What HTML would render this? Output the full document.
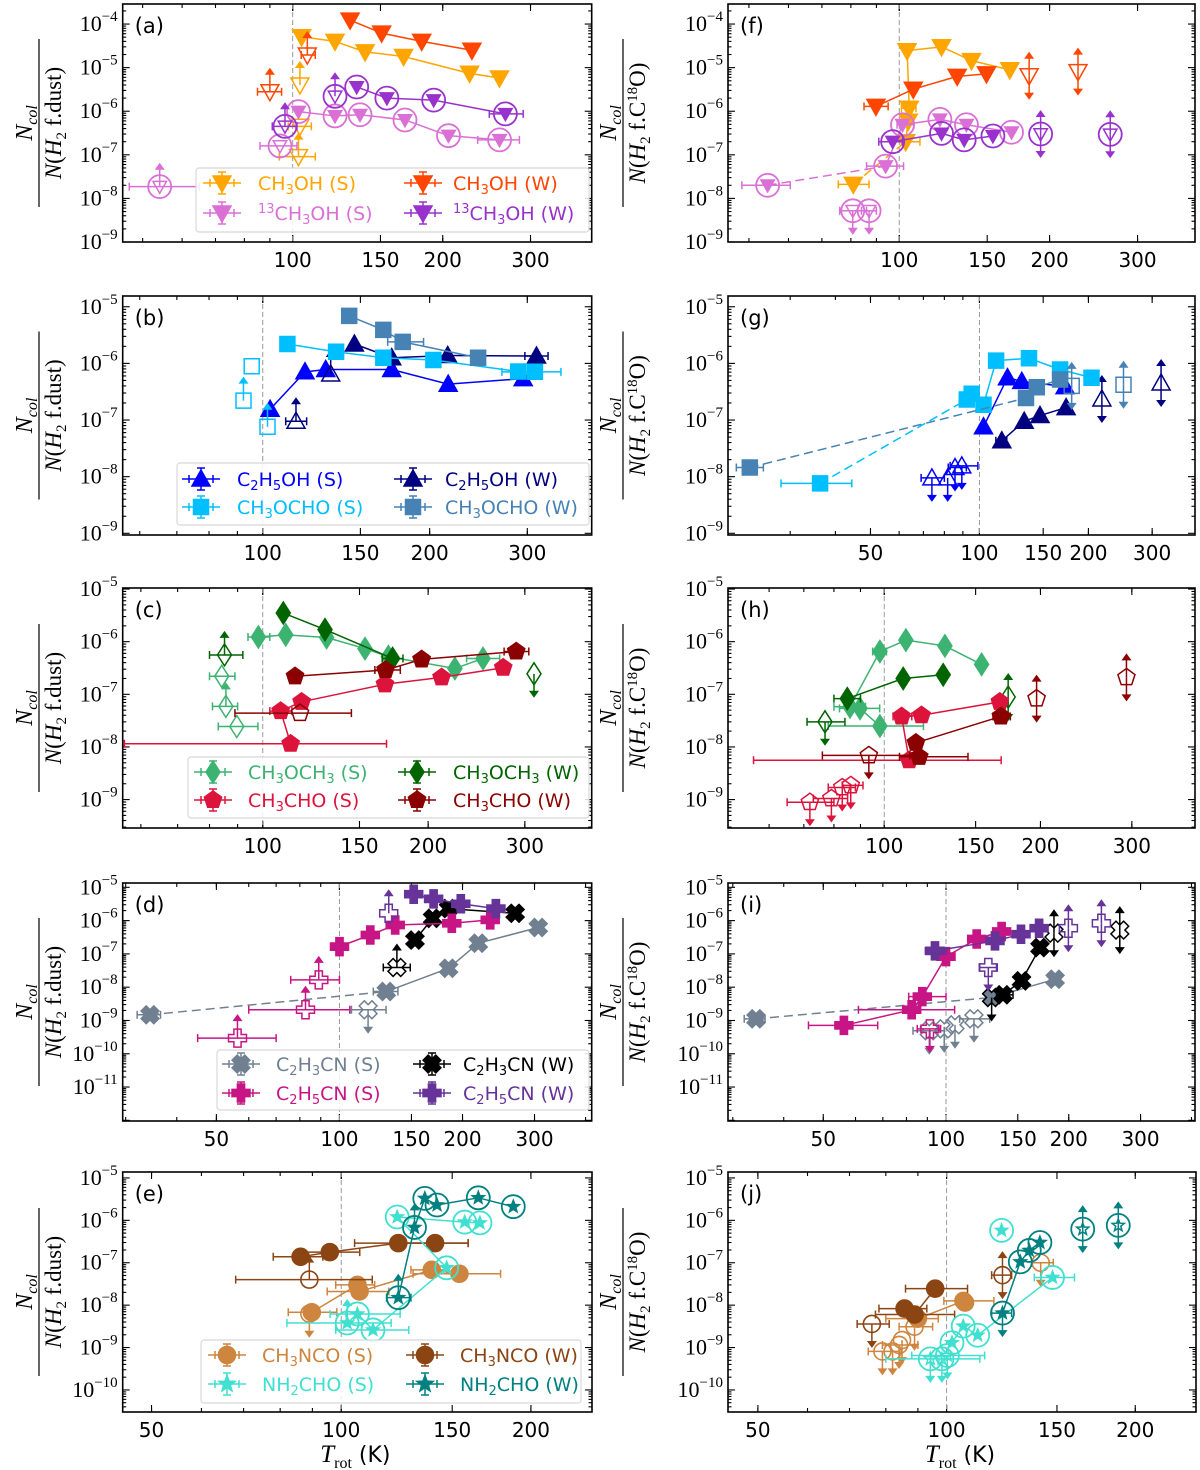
<!DOCTYPE html>
<html><head><meta charset="utf-8"><style>
html,body{margin:0;padding:0;background:#fff;}
svg{display:block;}
</style></head><body>
<svg id="fig" xmlns="http://www.w3.org/2000/svg" width="1200" height="1470" viewBox="0 0 1200 1470"></svg>
<script>
// ---------- DATA: each point = [T_rot (K), N_col/N(H2), kind, xerr_lo, xerr_hi]
// kind: f filled/connected, fn filled unconnected, fl/fu filled+limit, o open, ol open lower-limit (arrow up), ou upper-limit (arrow down), ob both
const a_CH3OH_S=[[104.2,5.1e-5,'f'],[121.6,4.0e-5,'f'],[139.7,2.3e-5,'f'],[166.9,1.8e-5,'f'],[226.4,7.4e-6,'f'],[260,5.8e-6,'f'],[103.4,4.0e-6,'ol'],[103.4,4.5e-7,'o',98,109],[102.7,9.1e-8,'ol',94,111]];
const a_CH3OH_W=[[130.4,1.23e-4,'f'],[150.8,6.2e-5,'f'],[181.5,4.0e-5,'f'],[228.8,2.5e-5,'f'],[107,1.95e-5,'ol',104,111],[90,2.8e-6,'ol',85,95]];
const a_13CH3OH_S=[[102.7,9.8e-7,'f'],[121.6,7.8e-7,'f'],[136.5,8.3e-7,'f'],[168,6.3e-7,'f'],[205.4,2.75e-7,'f'],[260,2.2e-7,'f',235,285],[54.1,1.86e-8,'ol',47,65],[94.3,1.6e-7,'o',86,102]];
const a_13CH3OH_W=[[134.4,3.6e-6,'f'],[154.5,2.0e-6,'f'],[191.8,1.8e-6,'f'],[267.1,8.7e-7,'f',248,290],[121.6,2.2e-6,'ol'],[96.5,4.5e-7,'ol',91,102]];

const b_C2H5OH_S=[[103.1,1.55e-7,'f'],[119.2,7.1e-7,'f'],[129.9,7.8e-7,'f'],[170.8,7.8e-7,'f'],[216,4.3e-7,'f'],[295,5.4e-7,'f']];
const b_C2H5OH_W=[[146.3,2.2e-6,'f'],[170.8,1.26e-6,'f'],[215.6,1.38e-6,'f'],[311.7,1.35e-6,'f',297,327],[132.6,6.5e-7,'ol'],[114.8,9.5e-8,'ol',110,120]];
const b_CH3OCHO_S=[[110.8,2.2e-6,'f'],[135.6,1.6e-6,'f'],[165,1.26e-6,'f'],[203.1,1.15e-6,'f'],[288.9,7.2e-7,'f'],[309.6,7.1e-7,'f',270,345],[95.5,8.9e-7,'o'],[92.3,2.2e-7,'ol'],[102,7.6e-8,'ol']];
const b_CH3OCHO_W=[[143.2,6.9e-6,'f'],[165,3.9e-6,'f'],[178.8,2.4e-6,'f',168,195],[244.6,1.26e-6,'f']];

const c_CH3OCH3_S=[[98.2,1.23e-6,'f',94,103],[110.1,1.35e-6,'f'],[130.7,1.2e-6,'f'],[153.5,7.4e-7,'f'],[169.3,5.2e-7,'f'],[223.8,3.1e-7,'f'],[251.7,4.8e-7,'f',235,270],[84.2,2.2e-7,'o',80,89],[85.7,5.9e-8,'ol',81,90],[89.7,2.45e-8,'o',83,98]];
const c_CH3OCH3_W=[[109,3.5e-6,'f'],[129.8,1.7e-6,'f'],[172.3,4.8e-7,'f',165,180],[85.2,5.6e-7,'ol',80,92],[311.7,2.45e-7,'ou']];
const c_CH3CHO_S=[[112.4,1.15e-8,'f',56,168],[107.8,4.8e-8,'f',103,113],[117.7,7.2e-8,'f'],[166.9,1.55e-7,'f'],[211.6,2.1e-7,'f'],[274,3.2e-7,'f']];
const c_CH3CHO_W=[[114.5,2.2e-7,'f'],[167.3,2.9e-7,'f',160,178],[194.6,4.6e-7,'f'],[289.3,6.5e-7,'f',275,305],[116.9,4.4e-8,'o',89,145]];

const d_C2H3CN_S=[[34.4,1.48e-9,'f',32,36.5],[130.2,7.4e-9,'f',121,139],[184.9,3.7e-8,'f'],[218.6,2.1e-7,'f'],[306.5,6.2e-7,'f'],[117.5,2.1e-9,'ou',107,130]];
const d_C2H3CN_W=[[153,2.6e-7,'f'],[169,1.17e-6,'f'],[184.9,2.3e-6,'f'],[269,1.66e-6,'f'],[138.2,3.9e-8,'ol',128,149]];
const d_C2H5CN_S=[[100,1.66e-7,'f',95.5,105],[119,3.7e-7,'f'],[136.9,7.4e-7,'f'],[188.3,8.3e-7,'f'],[233.8,1.05e-6,'f'],[56.3,2.95e-10,'ol',45,70],[82.6,2.1e-9,'ol',60,106],[89,1.66e-8,'ol',76,100]];
const d_C2H5CN_W=[[151.9,6.2e-6,'f'],[169.9,4.5e-6,'f'],[198.1,3.2e-6,'f'],[241.4,2.3e-6,'f'],[132,1.66e-6,'ol']];

const e_CH3NCO_S=[[89.8,6.8e-9,'f',82.4,98.4],[106.1,3.0e-8,'f',98,113],[106.9,2.1e-8,'f',95,119],[139.2,6.8e-8,'f',129,147],[154,5.5e-8,'f',130,179],[89,6.3e-9,'ou']];
const e_CH3NCO_W=[[86.2,1.38e-7,'f',78,93.5],[95.9,1.78e-7,'f',87,107],[123.2,2.9e-7,'f',105,159],[140.9,2.9e-7,'f',124,159],[89,4.0e-8,'ol',68,112]];
const e_NH2CHO_S=[[102.2,3.8e-9,'fl',82,120],[106.1,6.2e-9,'f',96,124],[112.3,2.6e-9,'f',98,128],[147,7.6e-8,'f'],[122.7,1.2e-6,'f'],[157,9.1e-7,'f'],[166,8.7e-7,'f']];
const e_NH2CHO_W=[[123.2,1.5e-8,'fl',118,129],[130.7,6.8e-7,'fl'],[135.7,3.3e-6,'f'],[141.9,2.3e-6,'f'],[165,3.4e-6,'f'],[187.5,2.1e-6,'f']];

const f_CH3OH_S=[[80.9,2.1e-8,'f',75.5,87],[103,2.0e-7,'f',101,110],[104.2,5.9e-7,'f'],[104.7,1.17e-6,'f',101,108],[103.7,2.45e-5,'f'],[121.5,3.0e-5,'f'],[139.5,1.45e-5,'f'],[166.5,8.9e-6,'f']];
const f_CH3OH_W=[[89.8,1.29e-6,'f',85,95],[106.7,3.2e-6,'f'],[130.6,6.3e-6,'f'],[149.5,7.2e-6,'f'],[182,6.5e-6,'ob'],[228,8.1e-6,'ob']];
const f_13CH3OH_S=[[54.5,2.0e-8,'f',48.4,60.5],[93.9,5.5e-8,'f',86,102],[101.5,4.9e-7,'f',99,107],[120.6,6.5e-7,'f'],[136.3,4.9e-7,'f'],[167.8,3.3e-7,'f'],[80.7,5.2e-9,'ou',76,86],[87,5.2e-9,'ou',84,90]];
const f_13CH3OH_W=[[97,2.0e-7,'f',91,101.5],[121.5,3.1e-7,'f'],[134.9,2.2e-7,'f'],[154,2.7e-7,'f'],[191.9,3.0e-7,'ob'],[264.5,2.95e-7,'ob']];

const g_CH3OCHO_S=[[36.3,7.6e-9,'f',28.3,44.4],[92.3,2.3e-7,'f'],[95.2,2.9e-7,'f'],[102.6,1.86e-7,'f'],[111.2,1.12e-6,'f'],[137.1,1.23e-6,'f'],[167,7.8e-7,'f'],[204,5.6e-7,'f']];
const g_CH3OCHO_W=[[23.2,1.45e-8,'f',21.3,25.3],[134.5,2.45e-7,'f'],[144,3.8e-7,'f'],[167,5.2e-7,'f'],[179.8,4.0e-7,'ob'],[250,4.2e-7,'ob']];
const g_C2H5OH_S=[[102.6,7.6e-8,'f'],[119.5,5.6e-7,'f'],[130.9,4.8e-7,'f'],[172.4,3.9e-7,'f'],[73.9,9.5e-9,'ou',69,80],[81.7,9.5e-9,'ou'],[85.6,1.45e-8,'ou',82,92],[89.4,1.55e-8,'ou',83,99]];
const g_C2H5OH_W=[[115.3,4.3e-8,'f',111,119],[132.9,9.5e-8,'f'],[147,1.2e-7,'f'],[173.5,1.66e-7,'f'],[217.9,2.35e-7,'ob'],[317.5,4.5e-7,'ob']];

const h_CH3OCH3_S=[[98.1,2.5e-8,'f',78,119],[89.8,5.4e-8,'f',82,98],[85.9,5.8e-8,'f',80,92],[98.1,6.5e-7,'f',95,101],[110.1,1.07e-6,'f'],[130.9,8.3e-7,'f'],[154,3.7e-7,'f']];
const h_CH3OCH3_W=[[84.9,8.3e-8,'f',80,90],[108.8,2.0e-7,'f'],[129.9,2.35e-7,'f'],[76.9,3.0e-8,'ou',71,84],[173.3,8.9e-8,'ob']];
const h_CH3CHO_S=[[111.7,5.6e-9,'f',56,168],[108,3.8e-8,'f',104,113],[118,4.0e-8,'f'],[167,7.2e-8,'f'],[71.9,8.9e-10,'ou',65,80],[79.1,1.05e-9,'ou',73,85],[83,1.7e-9,'ou',78,88],[86.2,1.86e-9,'ou',83,91]];
const h_CH3CHO_W=[[116.8,6.5e-9,'f',107,145],[115.1,1.2e-8,'f'],[167.8,3.8e-8,'f',162,175],[93.4,6.9e-9,'ou',76,112],[196.6,8.3e-8,'ob'],[292.9,2.1e-7,'ob']];

const i_C2H3CN_S=[[34.2,1.12e-9,'f',32,36],[129.4,4.9e-9,'f'],[185.2,1.74e-8,'f'],[91,4.9e-10,'ou',83,99],[99,5.6e-10,'ou'],[105.2,7.4e-10,'ou'],[117.1,1.12e-9,'ou',108,128]];
const i_C2H3CN_W=[[138,5.9e-9,'f',133,146],[153.2,1.55e-8,'f'],[170,1.55e-7,'f'],[129.4,4.9e-9,'ou'],[184,4.2e-7,'ob'],[266.8,5.2e-7,'ob']];
const i_C2H5CN_S=[[56.2,7.1e-10,'f',46,68],[82.4,2.1e-9,'f',61,105],[87.5,5.2e-9,'f',81,100],[100,8.3e-8,'f'],[118.9,2.8e-7,'f'],[136.9,4.7e-7,'f'],[91.3,5.6e-10,'ou',85,97]];
const i_C2H5CN_W=[[94,1.23e-7,'f',89,100],[131.9,2.45e-7,'f'],[152.7,3.9e-7,'f'],[169.2,5.9e-7,'f'],[127,3.9e-8,'ou',121,133],[199.6,5.9e-7,'ob'],[240.5,8.3e-7,'ob']];

const j_CH3NCO_S=[[90,4.8e-9,'f',80,97],[106.4,1.26e-8,'f',99,119],[107,1.15e-8,'f'],[88.9,3.1e-9,'ou',84,95],[79,8.1e-10,'ou',75,84],[82,8.1e-10,'ou'],[84,1.15e-9,'ou',79,90],[84.9,1.5e-9,'ou'],[141.3,1.0e-7,'ou',137,148]];
const j_CH3NCO_W=[[85.7,8.3e-9,'f',78,93],[88.9,6.0e-9,'f',77,103],[95.9,2.45e-8,'f',86,108],[76,3.6e-9,'ou',72,81],[122.8,5.1e-8,'ob',118,127]];
const j_NH2CHO_S=[[102,1.3e-9,'f'],[106.3,3.2e-9,'f'],[112.1,1.95e-9,'f'],[147.6,4.5e-8,'f',138,160],[122.4,5.8e-7,'fn'],[94.2,5.4e-10,'ou',80,113],[98.3,5.4e-10,'ou'],[100.3,6.5e-10,'ou',88,115]];
const j_NH2CHO_W=[[122.8,6.5e-9,'fu',118,127],[131.1,1.05e-7,'f'],[135.5,1.95e-7,'f'],[140.9,3.0e-7,'f'],[164.9,6.2e-7,'ob'],[187.9,7.6e-7,'ob']];

// ---------- STYLE / LAYOUT
const C={orange:'#ffa500',orangered:'#ff4500',orchid:'#da70d6',darkorchid:'#9932cc',blue:'#0000ff',navy:'#000080',dsb:'#00bfff',steel:'#4682b4',msg:'#3cb371',dgreen:'#006400',crimson:'#dc143c',dred:'#8b0000',slate:'#708090',black:'#000000',mvr:'#c71585',rpurple:'#663399',peru:'#cd853f',sbrown:'#8b4513',turq:'#40e0d0',teal:'#008080'};
const L={
 ch3oh:[['CH'],['3','sub'],['OH']], c13:[['13','sup'],['CH'],['3','sub'],['OH']],
 c2h5oh:[['C'],['2','sub'],['H'],['5','sub'],['OH']], ch3ocho:[['CH'],['3','sub'],['OCHO']],
 ch3och3:[['CH'],['3','sub'],['OCH'],['3','sub']], ch3cho:[['CH'],['3','sub'],['CHO']],
 c2h3cn:[['C'],['2','sub'],['H'],['3','sub'],['CN']], c2h5cn:[['C'],['2','sub'],['H'],['5','sub'],['CN']],
 ch3nco:[['CH'],['3','sub'],['NCO']], nh2cho:[['NH'],['2','sub'],['CHO']]
};
function S(name,data,color,m,lab,tag,opt){return Object.assign({name,data,color,m,lab,tag,ring:false,dash:0},opt||{});}
const panels=[
 {id:'a',x0:122.7,x1:591.7,y0:4,y1:242,tlo:45.6,thi:398,nlo:-9,nhi:-3.54,xt:[100,150,200,300],den:'dust',
  leg:{x0:196,x1:589,y0:168,y1:232,r:[183,213],m:[222,423],t:[258,453]},
  ser:[S('ch3oh-s',a_CH3OH_S,C.orange,'v',L.ch3oh,'S'),S('ch3oh-w',a_CH3OH_W,C.orangered,'v',L.ch3oh,'W'),S('13ch3oh-s',a_13CH3OH_S,C.orchid,'v',L.c13,'S',{ring:true}),S('13ch3oh-w',a_13CH3OH_W,C.darkorchid,'v',L.c13,'W',{ring:true})]},
 {id:'b',x0:122.7,x1:591.7,y0:296,y1:535,tlo:55.9,thi:392,nlo:-9.03,nhi:-4.81,xt:[100,150,200,300],den:'dust',
  leg:{x0:177,x1:589,y0:463,y1:525,r:[479,507],m:[201,413],t:[237,445]},
  ser:[S('c2h5oh-s',b_C2H5OH_S,C.blue,'^',L.c2h5oh,'S'),S('c2h5oh-w',b_C2H5OH_W,C.navy,'^',L.c2h5oh,'W'),S('ch3ocho-s',b_CH3OCHO_S,C.dsb,'s',L.ch3ocho,'S'),S('ch3ocho-w',b_CH3OCHO_W,C.steel,'s',L.ch3ocho,'W')]},
 {id:'c',x0:122.7,x1:591.7,y0:588,y1:828,tlo:55.6,thi:397,nlo:-9.54,nhi:-4.98,xt:[100,150,200,300],den:'dust',
  leg:{x0:188,x1:589,y0:757,y1:818,r:[772,800],m:[213,417],t:[248,453]},
  ser:[S('ch3och3-s',c_CH3OCH3_S,C.msg,'d',L.ch3och3,'S'),S('ch3och3-w',c_CH3OCH3_W,C.dgreen,'d',L.ch3och3,'W'),S('ch3cho-s',c_CH3CHO_S,C.crimson,'p',L.ch3cho,'S'),S('ch3cho-w',c_CH3CHO_W,C.dred,'p',L.ch3cho,'W')]},
 {id:'d',x0:122.7,x1:591.7,y0:883,y1:1121,tlo:29.5,thi:414,nlo:-12.02,nhi:-4.87,xt:[50,100,150,200,300],den:'dust',
  leg:{x0:217,x1:589,y0:1050,y1:1110,r:[1064,1093],m:[241,432],t:[276,463]},
  ser:[S('c2h3cn-s',d_C2H3CN_S,C.slate,'X',L.c2h3cn,'S',{dash:1}),S('c2h3cn-w',d_C2H3CN_W,C.black,'X',L.c2h3cn,'W'),S('c2h5cn-s',d_C2H5CN_S,C.mvr,'P',L.c2h5cn,'S'),S('c2h5cn-w',d_C2H5CN_W,C.rpurple,'P',L.c2h5cn,'W')]},
 {id:'e',x0:122.7,x1:592,y0:1172,y1:1412,tlo:45,thi:250,nlo:-10.52,nhi:-4.86,xt:[50,100,150,200],den:'dust',xlab:true,
  leg:{x0:201,x1:581,y0:1340,y1:1403,r:[1355,1384],m:[227,425],t:[262,460]},
  ser:[S('ch3nco-s',e_CH3NCO_S,C.peru,'o',L.ch3nco,'S'),S('ch3nco-w',e_CH3NCO_W,C.sbrown,'o',L.ch3nco,'W'),S('nh2cho-s',e_NH2CHO_S,C.turq,'*',L.nh2cho,'S',{ring:true}),S('nh2cho-w',e_NH2CHO_W,C.teal,'*',L.nh2cho,'W',{ring:true})]},
 {id:'f',x0:728,x1:1195,y0:4,y1:242,tlo:45.4,thi:391,nlo:-9,nhi:-3.54,xt:[100,150,200,300],den:'c18o',
  ser:[S('ch3oh-s',f_CH3OH_S,C.orange,'v',L.ch3oh,'S',{dash:1}),S('ch3oh-w',f_CH3OH_W,C.orangered,'v',L.ch3oh,'W'),S('13ch3oh-s',f_13CH3OH_S,C.orchid,'v',L.c13,'S',{ring:true,dash:1}),S('13ch3oh-w',f_13CH3OH_W,C.darkorchid,'v',L.c13,'W',{ring:true})]},
 {id:'g',x0:728,x1:1195,y0:296,y1:535,tlo:20.2,thi:394,nlo:-9.03,nhi:-4.81,xt:[50,100,150,200,300],den:'c18o',
  ser:[S('c2h5oh-s',g_C2H5OH_S,C.blue,'^',L.c2h5oh,'S'),S('c2h5oh-w',g_C2H5OH_W,C.navy,'^',L.c2h5oh,'W'),S('ch3ocho-s',g_CH3OCHO_S,C.dsb,'s',L.ch3ocho,'S',{dash:1}),S('ch3ocho-w',g_CH3OCHO_W,C.steel,'s',L.ch3ocho,'W',{dash:1})]},
 {id:'h',x0:728,x1:1195,y0:588,y1:828,tlo:50,thi:397,nlo:-9.54,nhi:-4.98,xt:[100,150,200,300],den:'c18o',
  ser:[S('ch3och3-s',h_CH3OCH3_S,C.msg,'d',L.ch3och3,'S'),S('ch3och3-w',h_CH3OCH3_W,C.dgreen,'d',L.ch3och3,'W'),S('ch3cho-s',h_CH3CHO_S,C.crimson,'p',L.ch3cho,'S'),S('ch3cho-w',h_CH3CHO_W,C.dred,'p',L.ch3cho,'W')]},
 {id:'i',x0:728,x1:1195,y0:883,y1:1121,tlo:29.2,thi:408,nlo:-12.02,nhi:-4.87,xt:[50,100,150,200,300],den:'c18o',
  ser:[S('c2h3cn-s',i_C2H3CN_S,C.slate,'X',L.c2h3cn,'S',{dash:1}),S('c2h3cn-w',i_C2H3CN_W,C.black,'X',L.c2h3cn,'W'),S('c2h5cn-s',i_C2H5CN_S,C.mvr,'P',L.c2h5cn,'S'),S('c2h5cn-w',i_C2H5CN_W,C.rpurple,'P',L.c2h5cn,'W')]},
 {id:'j',x0:728,x1:1196,y0:1172,y1:1412,tlo:44.8,thi:250,nlo:-10.52,nhi:-4.86,xt:[50,100,150,200],den:'c18o',xlab:true,
  ser:[S('ch3nco-s',j_CH3NCO_S,C.peru,'o',L.ch3nco,'S'),S('ch3nco-w',j_CH3NCO_W,C.sbrown,'o',L.ch3nco,'W'),S('nh2cho-s',j_NH2CHO_S,C.turq,'*',L.nh2cho,'S',{ring:true}),S('nh2cho-w',j_NH2CHO_W,C.teal,'*',L.nh2cho,'W',{ring:true})]}
];

// ---------- DRAWING
const NS='http://www.w3.org/2000/svg';
const svg=document.getElementById('fig');
function mk(tag,attrs,parent){const e=document.createElementNS(NS,tag);for(const k in attrs)e.setAttribute(k,attrs[k]);parent.appendChild(e);return e;}
function xs(p,T){return p.x0+(Math.log10(T)-Math.log10(p.tlo))/(Math.log10(p.thi)-Math.log10(p.tlo))*(p.x1-p.x0);}
function ys(p,N){return p.y1-(Math.log10(N)-p.nlo)/(p.nhi-p.nlo)*(p.y1-p.y0);}
function poly(pts){return pts.map(q=>q[0].toFixed(1)+','+q[1].toFixed(1)).join(' ');}
function shapePts(m,s){
  const r=[];
  if(m==='v')return [[-9*s,-7*s],[9*s,-7*s],[0,9*s]];
  if(m==='^')return [[-9*s,7*s],[9*s,7*s],[0,-9*s]];
  if(m==='s')return [[-7.5*s,-7.5*s],[7.5*s,-7.5*s],[7.5*s,7.5*s],[-7.5*s,7.5*s]];
  if(m==='d')return [[0,-11*s],[7*s,0],[0,11*s],[-7*s,0]];
  if(m==='p'){for(let k=0;k<5;k++){const a=-Math.PI/2+k*2*Math.PI/5;r.push([9*s*Math.cos(a),9*s*Math.sin(a)]);}return r;}
  if(m==='*'){for(let k=0;k<10;k++){const a=-Math.PI/2+k*Math.PI/5,R=(k%2?3.6:8.5)*s;r.push([R*Math.cos(a),R*Math.sin(a)]);}return r;}
  if(m==='P'||m==='X'){const w=3.6*s,Lh=9*s;const b=[[-w,-Lh],[w,-Lh],[w,-w],[Lh,-w],[Lh,w],[w,w],[w,Lh],[-w,Lh],[-w,w],[-Lh,w],[-Lh,-w],[-w,-w]];
    if(m==='P')return b;const c=Math.SQRT1_2;return b.map(q=>[(q[0]-q[1])*c,(q[0]+q[1])*c]);}
  return null;
}
function marker(g,m,cx,cy,color,filled,ring,nameStr){
  const grp=mk('g',{},g);
  
  
  let s=1;
  if(ring){mk('circle',{cx:cx,cy:cy,r:11.5,fill:'none',stroke:color,'stroke-width':1.8},grp);s=0.75;}
  const fill=filled?color:'none';
  if(m==='o'){mk('circle',{cx:cx,cy:cy,r:8.5,fill:fill,stroke:color,'stroke-width':1.6},grp);}
  else{const pts=shapePts(m,s).map(q=>[q[0]+cx,q[1]+cy]);mk('polygon',{points:poly(pts),fill:fill,stroke:color,'stroke-width':1.5,'stroke-linejoin':'miter'},grp);}
  return grp;
}
function arrow(g,cx,cy,dir,color){
  const L2=24,tip=cy+dir*L2;
  mk('line',{x1:cx,y1:cy,x2:cx,y2:tip-dir*6,stroke:color,'stroke-width':1.5},g);
  mk('polygon',{points:poly([[cx-5,tip-dir*7],[cx+5,tip-dir*7],[cx,tip]]),fill:color},g);
}
function xerr(g,p,T,lo,hi,cy,color){
  const a=xs(p,lo),b=xs(p,hi);
  mk('line',{x1:a,y1:cy,x2:b,y2:cy,stroke:color,'stroke-width':1.5},g);
  mk('line',{x1:a,y1:cy-4,x2:a,y2:cy+4,stroke:color,'stroke-width':1.5},g);
  mk('line',{x1:b,y1:cy-4,x2:b,y2:cy+4,stroke:color,'stroke-width':1.5},g);
}
function richText(parent,x,y,parts,size,color,anchor){
  const t=mk('text',{x:x,y:y,'font-family':'"DejaVu Sans","Liberation Sans",sans-serif','font-size':size,fill:color},parent);
  if(anchor)t.setAttribute('text-anchor',anchor);
  let shift=0;
  parts.forEach(pt=>{
    const sp=mk('tspan',{},t);
    let want=0;if(pt[1]==='sub')want=4;if(pt[1]==='sup')want=-7;
    sp.setAttribute('dy',want-shift);shift=want;
    if(pt[1])sp.setAttribute('font-size',Math.round(size*0.7));
    sp.textContent=pt[0];
  });
  return t;
}

panels.forEach(p=>{
  const g=mk('g',{},svg);
  
  
  const cid='clip-'+p.id;
  const cp=mk('clipPath',{id:cid},g);mk('rect',{x:p.x0,y:p.y0,width:p.x1-p.x0,height:p.y1-p.y0},cp);
  const ax=mk('g',{},g);
  
  
  const yLabLo=(p.id==='d'||p.id==='i')?-11:Math.ceil(p.nlo-0.05);
  for(let e=Math.floor(p.nlo);e<=Math.ceil(p.nhi);e++){
    for(let k=1;k<10;k++){
      const lv=e+Math.log10(k);if(lv<p.nlo-1e-6||lv>p.nhi+1e-6)continue;
      const y=p.y1-(lv-p.nlo)/(p.nhi-p.nlo)*(p.y1-p.y0);const len=k===1?7:3.5;
      mk('line',{x1:p.x0,y1:y,x2:p.x0+len,y2:y,stroke:'#000','stroke-width':1.1},ax);
      mk('line',{x1:p.x1,y1:y,x2:p.x1-len,y2:y,stroke:'#000','stroke-width':1.1},ax);
      if(k===1&&e>=yLabLo&&e<=p.nhi+0.05){
        const t=mk('text',{x:p.x0-5,y:y+7,'text-anchor':'end','font-family':'"Liberation Serif","DejaVu Serif",serif','font-size':22,fill:'#000'},ax);
        
        
        const a=mk('tspan',{},t);a.textContent='10';
        const b=mk('tspan',{dy:-10,'font-size':15},t);b.textContent='\u2212'+Math.abs(e);
      }
    }
  }
  const minors=[];for(let v=20;v<100;v+=10)minors.push(v);for(let v=100;v<=400;v+=100)minors.push(v);
  minors.forEach(v=>{if(v<p.tlo||v>p.thi)return;const x=xs(p,v);const len=v===100?7:4;
    mk('line',{x1:x,y1:p.y1,x2:x,y2:p.y1-len,stroke:'#000','stroke-width':1.1},ax);
    mk('line',{x1:x,y1:p.y0,x2:x,y2:p.y0+len,stroke:'#000','stroke-width':1.1},ax);});
  p.xt.forEach(v=>{const x=xs(p,v);
    mk('line',{x1:x,y1:p.y1,x2:x,y2:p.y1-7,stroke:'#000','stroke-width':1.1},ax);
    mk('line',{x1:x,y1:p.y0,x2:x,y2:p.y0+7,stroke:'#000','stroke-width':1.1},ax);
    const t=mk('text',{x:x,y:p.y1+25,'text-anchor':'middle','font-family':'"DejaVu Sans","Liberation Sans",sans-serif','font-size':20,fill:'#000'},ax);
    
    
    t.textContent=String(v);});
  const vx=xs(p,100);
  const vl=mk('line',{x1:vx,y1:p.y0,x2:vx,y2:p.y1,stroke:'#999','stroke-width':1,'stroke-dasharray':'5,3'},g);
  
  
  const pl=mk('text',{x:p.x0+12,y:p.y0+29,'font-family':'"DejaVu Sans","Liberation Sans",sans-serif','font-size':21,fill:'#000'},g);
  
  
  pl.textContent='('+p.id+')';
  const dg=mk('g',{'clip-path':'url(#'+cid+')'},g);
  p.ser.forEach(s=>{
    const sg=mk('g',{},dg);
    
    
    const con=s.data.filter(d=>d[2][0]==='f'&&d[2]!=='fn');
    for(let i=1;i<con.length;i++){
      const ln=mk('line',{x1:xs(p,con[i-1][0]),y1:ys(p,con[i-1][1]),x2:xs(p,con[i][0]),y2:ys(p,con[i][1]),stroke:s.color,'stroke-width':1.5},sg);
      if(i<=s.dash)ln.setAttribute('stroke-dasharray','9,5');
    }
    s.data.forEach(d=>{
      const cx=xs(p,d[0]),cy=ys(p,d[1]),k=d[2];
      if(d[3])xerr(sg,p,d[0],d[3],d[4],cy,s.color);
      if(k==='ol'||k==='fl'||k==='ob')arrow(sg,cx,cy,-1,s.color);
      if(k==='ou'||k==='fu'||k==='ob')arrow(sg,cx,cy,1,s.color);
      marker(sg,s.m,cx,cy,s.color,k[0]==='f',s.ring,'point-'+s.name);
    });
  });
  const fr=mk('rect',{x:p.x0,y:p.y0,width:p.x1-p.x0,height:p.y1-p.y0,fill:'none',stroke:'#000','stroke-width':1.6},g);
  
  
  if(p.leg){
    const lg=mk('g',{},g);
    
    
    mk('rect',{x:p.leg.x0,y:p.leg.y0,width:p.leg.x1-p.leg.x0,height:p.leg.y1-p.leg.y0,rx:3,fill:'#fff','fill-opacity':0.85,stroke:'#d8d8d8','stroke-width':1.2},lg);
    const order=[[0,0],[1,0],[0,1],[1,1]];
    p.ser.forEach((s,i)=>{
      const col=order[i][0],row=order[i][1];
      const eg=mk('g',{},lg);
      
      
      const mx=p.leg.m[col],my=p.leg.r[row];
      mk('line',{x1:mx-19,y1:my,x2:mx+19,y2:my,stroke:s.color,'stroke-width':1.5},eg);
      [[mx-12],[mx+12]].forEach(q=>mk('line',{x1:q[0],y1:my-4,x2:q[0],y2:my+4,stroke:s.color,'stroke-width':1.5},eg));
      mk('line',{x1:mx,y1:my-11,x2:mx,y2:my+11,stroke:s.color,'stroke-width':1.5},eg);
      mk('line',{x1:mx-4,y1:my-11,x2:mx+4,y2:my-11,stroke:s.color,'stroke-width':1.5},eg);
      mk('line',{x1:mx-4,y1:my+11,x2:mx+4,y2:my+11,stroke:s.color,'stroke-width':1.5},eg);
      marker(eg,s.m,mx,my,s.color,true,false,'legend-marker');
      const parts=s.lab.concat([[' ('+s.tag+')']]);
      richText(eg,p.leg.t[col],my+7,parts,19,s.color);
    });
  }
  const cy=(p.y0+p.y1)/2, cx=p.x0<300?38:622;
  const yl=mk('g',{transform:'translate('+cx+','+cy+') rotate(-90)'},g);
  
  
  const num=mk('text',{x:0,y:-6,'text-anchor':'middle','font-family':'"Liberation Serif","DejaVu Serif",serif','font-size':24,'font-style':'italic',fill:'#000'},yl);
  const n1=mk('tspan',{},num);n1.textContent='N';
  const n2=mk('tspan',{dy:5,'font-size':16},num);n2.textContent='col';
  mk('line',{x1:-84,y1:1,x2:84,y2:1,stroke:'#000','stroke-width':1.2},yl);
  const den=mk('text',{x:0,y:23,'text-anchor':'middle','font-family':'"Liberation Serif","DejaVu Serif",serif','font-size':23,fill:'#000'},yl);
  const dparts=p.den==='dust'?[['N','i'],['('],['H','i'],['2','sub'],[' f.dust)']]:[['N','i'],['('],['H','i'],['2','sub'],[' f.C'],['18','sup'],['O)']];
  let sh=0;
  dparts.forEach(pt=>{const sp=mk('tspan',{},den);let w=0;if(pt[1]==='sub')w=5;if(pt[1]==='sup')w=-8;
    sp.setAttribute('dy',w-sh);sh=w;if(pt[1]==='i')sp.setAttribute('font-style','italic');
    if(pt[1]==='sub'||pt[1]==='sup')sp.setAttribute('font-size',15);sp.textContent=pt[0];});
  if(p.xlab){
    const xl=mk('text',{x:(p.x0+p.x1)/2-2,y:p.y1+50,'text-anchor':'middle','font-family':'"Liberation Serif","DejaVu Serif",serif','font-size':25,fill:'#000'},g);
    
    
    const t1=mk('tspan',{'font-style':'italic'},xl);t1.textContent='T';
    const t2=mk('tspan',{dy:6,'font-size':16},xl);t2.textContent='rot';
    const t3=mk('tspan',{dy:-6,'font-family':'"DejaVu Sans","Liberation Sans",sans-serif','font-size':22},xl);t3.textContent='\u00a0(K)';
  }
});
</script>
</body></html>
